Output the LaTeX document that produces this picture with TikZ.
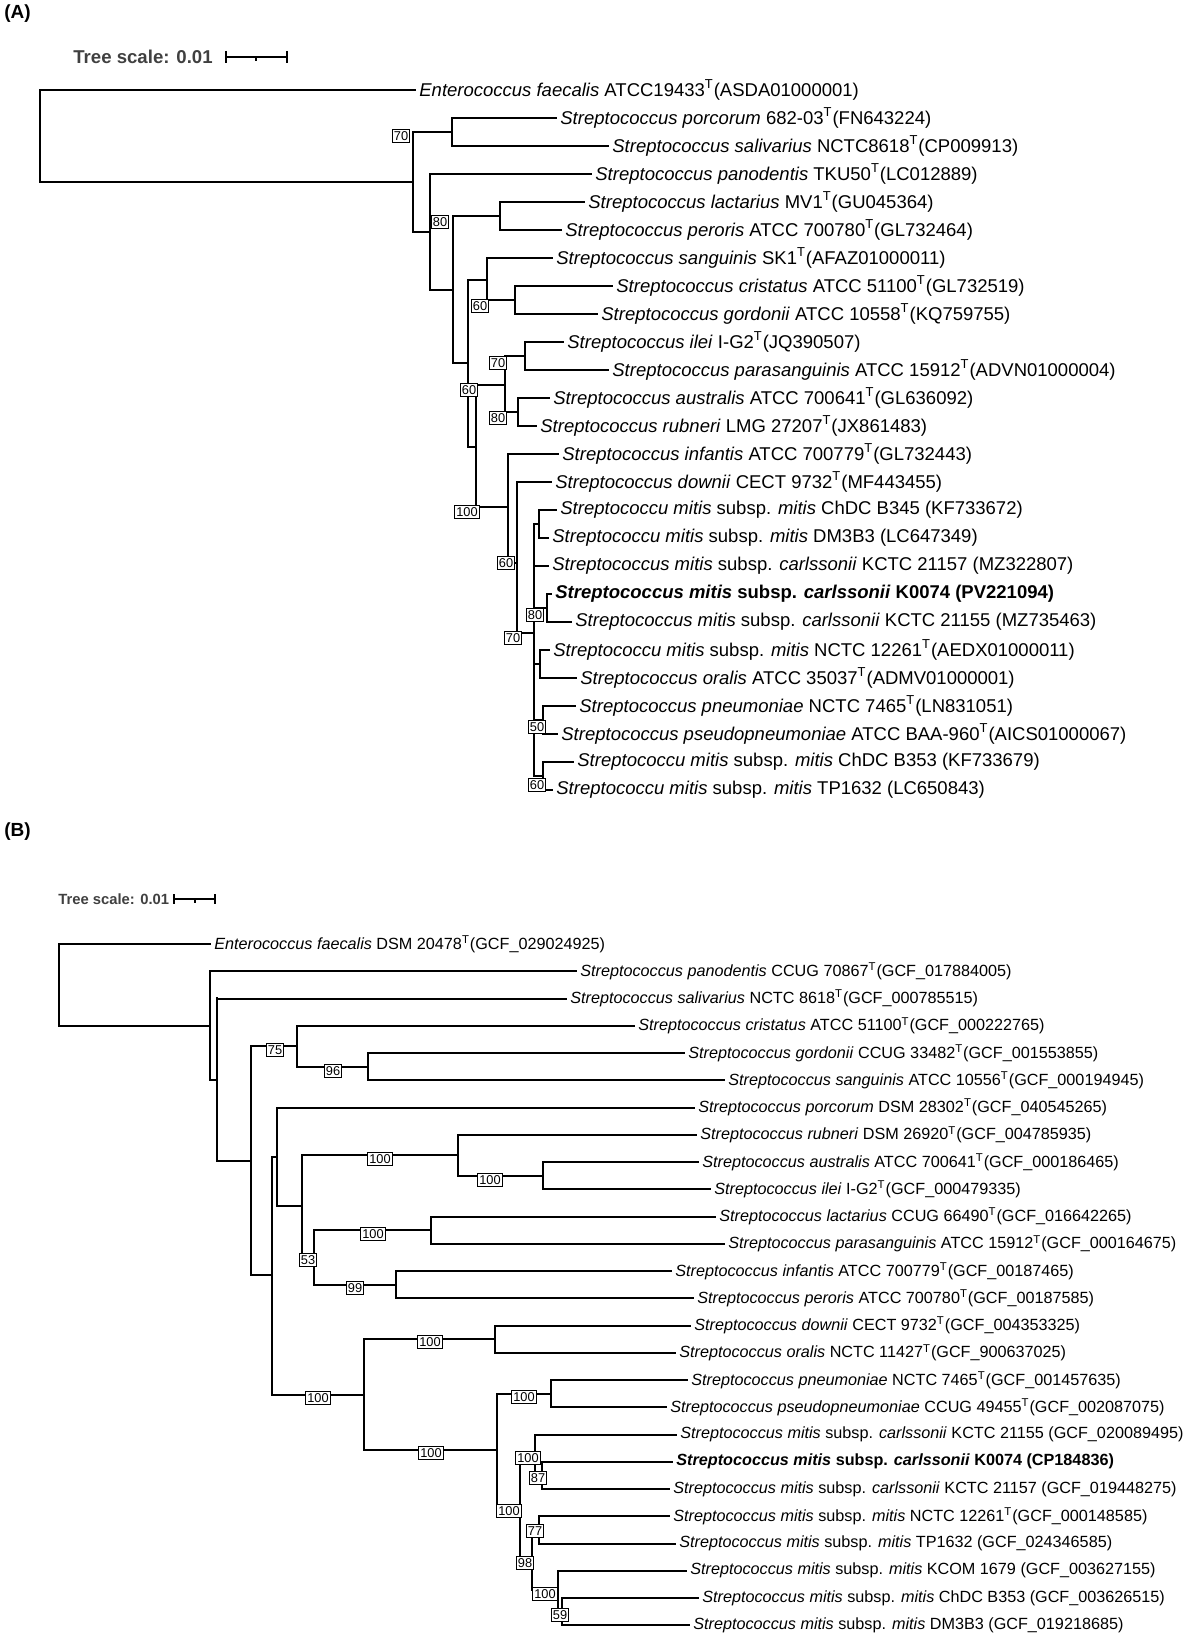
\documentclass[tikz,border=0pt]{standalone}
\usepackage{fontspec}
\setmainfont{Liberation Sans}
\usetikzlibrary{positioning, calc}

\newcommand{\gs}[1]{\textit{#1}}
\newcommand{\tT}{\textsuperscript{T}}

\tikzset{
	branch/.style={line width=1pt, line cap=rect},
	bs/.style={draw, fill=white, line width=0.45pt, inner sep=0.9pt, font=\fontsize{6.4}{7}\selectfont},
	tipA/.style={anchor=west, inner sep=0pt, font=\fontsize{9.25}{10}\selectfont},
	tipB/.style={anchor=west, inner sep=0pt, font=\fontsize{8.1}{9}\selectfont},
}

\begin{document}
\begin{tikzpicture}[x=0.5pt, y=-0.5pt]
	\useasboundingbox (0,0) rectangle (1187,1637);
	% panel labels and scales
	\node[anchor=north west, inner sep=0pt, font=\bfseries\fontsize{9.5}{10}\selectfont] (labA) at (4,4) {(A)};
	\node[anchor=north west, inner sep=0pt, font=\bfseries\fontsize{9.5}{10}\selectfont] (labB) at (4,822) {(B)};
	\node[anchor=west, inner sep=0pt, text=black!75, font=\bfseries\fontsize{9.3}{10}\selectfont] (scA) at (73,57) {Tree scale: 0.01};
	\draw[line width=0.9pt] (226,57) -- (287,57);
	\foreach \x in {226,287} \draw[line width=0.9pt] (\x,51) -- (\x,63);
	\draw[line width=0.6pt] (256,57) -- (256,61);
	\node[anchor=west, inner sep=0pt, text=black!75, font=\bfseries\fontsize{7.4}{8}\selectfont] (scB) at (58,899) {Tree scale: 0.01};
	\draw[line width=0.9pt] (174,899) -- (215,899);
	\foreach \x in {174,215} \draw[line width=0.9pt] (\x,894) -- (\x,904);
	\draw[line width=0.6pt] (195,899) -- (195,903);

	% ---------------- tree A ----------------
	\foreach \i/\px/\lx/\t in {
		0/40/419/{\gs{Enterococcus faecalis} ATCC19433\tT(ASDA01000001)},
		1/452/560/{\gs{Streptococcus porcorum} 682-03\tT(FN643224)},
		2/452/612/{\gs{Streptococcus salivarius} NCTC8618\tT(CP009913)},
		3/430/595/{\gs{Streptococcus panodentis} TKU50\tT(LC012889)},
		4/500/588/{\gs{Streptococcus lactarius} MV1\tT(GU045364)},
		5/500/565/{\gs{Streptococcus peroris} ATCC 700780\tT(GL732464)},
		6/487/556/{\gs{Streptococcus sanguinis} SK1\tT(AFAZ01000011)},
		7/515/616/{\gs{Streptococcus cristatus} ATCC 51100\tT(GL732519)},
		8/515/601/{\gs{Streptococcus gordonii} ATCC 10558\tT(KQ759755)},
		9/525/567/{\gs{Streptococcus ilei} I-G2\tT(JQ390507)},
		10/525/612/{\gs{Streptococcus parasanguinis} ATCC 15912\tT(ADVN01000004)},
		11/518/553/{\gs{Streptococcus australis} ATCC 700641\tT(GL636092)},
		12/518/540/{\gs{Streptococcus rubneri} LMG 27207\tT(JX861483)},
		13/508/562/{\gs{Streptococcus infantis} ATCC 700779\tT(GL732443)},
		14/517/555/{\gs{Streptococcus downii} CECT 9732\tT(MF443455)},
		15/539/560/{\gs{Streptococcu mitis} subsp. \gs{mitis} ChDC B345 (KF733672)},
		16/539/552/{\gs{Streptococcu mitis} subsp. \gs{mitis} DM3B3 (LC647349)},
		17/534/552/{\gs{Streptococcus mitis} subsp. \gs{carlssonii} KCTC 21157 (MZ322807)},
		18/547/555/{\textbf{\gs{Streptococcus mitis} subsp. \gs{carlssonii} K0074 (PV221094)}},
		19/547/575/{\gs{Streptococcus mitis} subsp. \gs{carlssonii} KCTC 21155 (MZ735463)},
		20/540/553/{\gs{Streptococcu mitis} subsp. \gs{mitis} NCTC 12261\tT(AEDX01000011)},
		21/540/580/{\gs{Streptococcus oralis} ATCC 35037\tT(ADMV01000001)},
		22/543/579/{\gs{Streptococcus pneumoniae} NCTC 7465\tT(LN831051)},
		23/543/561/{\gs{Streptococcus pseudopneumoniae} ATCC BAA-960\tT(AICS01000067)},
		24/543/577/{\gs{Streptococcu mitis} subsp. \gs{mitis} ChDC B353 (KF733679)},
		25/543/556/{\gs{Streptococcu mitis} subsp. \gs{mitis} TP1632 (LC650843)}} {
		\pgfmathsetmacro{\y}{90+28*\i}
		\draw[branch] (\px,\y) -- (\lx-4,\y);
		\node[tipA] (a\i) at (\lx,\y) {\t};
	}
	% inner branches of A
	\draw[branch] (40,90) -- (40,182) -- (413,182);
	\draw[branch] (452,132) -- (413,132) -- (413,232) -- (430,232);
	\draw[branch] (452,118) -- (452,146);
	\draw[branch] (430,174) -- (430,290) -- (453,290);
	\draw[branch] (500,216) -- (453,216) -- (453,363) -- (468,363);
	\draw[branch] (500,202) -- (500,230);
	\draw[branch] (487,280) -- (468,280) -- (468,447) -- (476,447);
	\draw[branch] (487,258) -- (487,300) -- (515,300);
	\draw[branch] (515,286) -- (515,314);
	\draw[branch] (505,385) -- (476,385) -- (476,507) -- (508,507);
	\draw[branch] (525,356) -- (505,356) -- (505,412) -- (518,412);
	\draw[branch] (525,342) -- (525,370);
	\draw[branch] (518,398) -- (518,426);
	\draw[branch] (508,454) -- (508,563) -- (517,563);
	\draw[branch] (517,482) -- (517,633) -- (534,633);
	\draw[branch] (539,524) -- (534,524) -- (534,776) -- (543,776);
	\draw[branch] (539,510) -- (539,538);
	\draw[branch] (534,608) -- (547,608);
	\draw[branch] (547,594) -- (547,622);
	\draw[branch] (534,664) -- (540,664);
	\draw[branch] (540,650) -- (540,678);
	\draw[branch] (534,720) -- (543,720);
	\draw[branch] (543,706) -- (543,734);
	\draw[branch] (543,762) -- (543,790);
	% bootstrap values of A
	\foreach \bx/\by/\v in {401/136/70, 440/222/80, 480/306/60, 498/363/70, 469/390/60,
		498/418/80, 467/512/100, 506/563/60, 513/638/70, 535/615/80, 537/727/50, 537/785/60}
		\node[bs] at (\bx,\by) {\v};

	% ---------------- tree B ----------------
	\foreach \j/\px/\lx/\t in {
		0/59/214/{\gs{Enterococcus faecalis} DSM 20478\tT(GCF\_029024925)},
		1/210/580/{\gs{Streptococcus panodentis} CCUG 70867\tT(GCF\_017884005)},
		2/217/570/{\gs{Streptococcus salivarius} NCTC 8618\tT(GCF\_000785515)},
		3/297/638/{\gs{Streptococcus cristatus} ATCC 51100\tT(GCF\_000222765)},
		4/368/688/{\gs{Streptococcus gordonii} CCUG 33482\tT(GCF\_001553855)},
		5/368/728/{\gs{Streptococcus sanguinis} ATCC 10556\tT(GCF\_000194945)},
		6/277/698/{\gs{Streptococcus porcorum} DSM 28302\tT(GCF\_040545265)},
		7/458/700/{\gs{Streptococcus rubneri} DSM 26920\tT(GCF\_004785935)},
		8/543/702/{\gs{Streptococcus australis} ATCC 700641\tT(GCF\_000186465)},
		9/543/714/{\gs{Streptococcus ilei} I-G2\tT(GCF\_000479335)},
		10/431/719/{\gs{Streptococcus lactarius} CCUG 66490\tT(GCF\_016642265)},
		11/431/728/{\gs{Streptococcus parasanguinis} ATCC 15912\tT(GCF\_000164675)},
		12/396/675/{\gs{Streptococcus infantis} ATCC 700779\tT(GCF\_00187465)},
		13/396/697/{\gs{Streptococcus peroris} ATCC 700780\tT(GCF\_00187585)},
		14/495/694/{\gs{Streptococcus downii} CECT 9732\tT(GCF\_004353325)},
		15/495/679/{\gs{Streptococcus oralis} NCTC 11427\tT(GCF\_900637025)},
		16/551/691/{\gs{Streptococcus pneumoniae} NCTC 7465\tT(GCF\_001457635)},
		17/551/670/{\gs{Streptococcus pseudopneumoniae} CCUG 49455\tT(GCF\_002087075)},
		18/535/680/{\gs{Streptococcus mitis} subsp. \gs{carlssonii} KCTC 21155 (GCF\_020089495)},
		19/542/676/{\textbf{\gs{Streptococcus mitis} subsp. \gs{carlssonii} K0074 (CP184836)}},
		20/542/673/{\gs{Streptococcus mitis} subsp. \gs{carlssonii} KCTC 21157 (GCF\_019448275)},
		21/539/673/{\gs{Streptococcus mitis} subsp. \gs{mitis} NCTC 12261\tT(GCF\_000148585)},
		22/539/679/{\gs{Streptococcus mitis} subsp. \gs{mitis} TP1632 (GCF\_024346585)},
		23/558/690/{\gs{Streptococcus mitis} subsp. \gs{mitis} KCOM 1679 (GCF\_003627155)},
		24/562/702/{\gs{Streptococcus mitis} subsp. \gs{mitis} ChDC B353 (GCF\_003626515)},
		25/562/693/{\gs{Streptococcus mitis} subsp. \gs{mitis} DM3B3 (GCF\_019218685)}} {
		\pgfmathsetmacro{\y}{944+27.25*\j}
		\draw[branch] (\px,\y) -- (\lx-4,\y);
		\node[tipB] (b\j) at (\lx,\y) {\t};
	}
	% inner branches of B
	\draw[branch] (59,944) -- (59,1026) -- (210,1026);
	\draw[branch] (210,971) -- (210,1080) -- (217,1080);
	\draw[branch] (217,998) -- (217,1161) -- (251,1161);
	\draw[branch] (297,1046) -- (251,1046) -- (251,1275) -- (272,1275);
	\draw[branch] (297,1026) -- (297,1067) -- (368,1067);
	\draw[branch] (368,1053) -- (368,1080);
	\draw[branch] (277,1157) -- (272,1157) -- (272,1395) -- (364,1395);
	\draw[branch] (277,1108) -- (277,1206) -- (302,1206);
	\draw[branch] (458,1155) -- (302,1155) -- (302,1257) -- (314,1257);
	\draw[branch] (458,1135) -- (458,1176) -- (543,1176);
	\draw[branch] (543,1162) -- (543,1189);
	\draw[branch] (431,1230) -- (314,1230) -- (314,1285) -- (396,1285);
	\draw[branch] (431,1217) -- (431,1244);
	\draw[branch] (396,1271) -- (396,1298);
	\draw[branch] (495,1339) -- (364,1339) -- (364,1450) -- (497,1450);
	\draw[branch] (495,1326) -- (495,1353);
	\draw[branch] (551,1394) -- (497,1394) -- (497,1507) -- (520,1507);
	\draw[branch] (551,1380) -- (551,1407);
	\draw[branch] (535,1458) -- (520,1458) -- (520,1563) -- (532,1563);
	\draw[branch] (535,1435) -- (535,1475) -- (542,1475);
	\draw[branch] (542,1462) -- (542,1489);
	\draw[branch] (539,1530) -- (532,1530) -- (532,1590) -- (558,1590);
	\draw[branch] (539,1516) -- (539,1543);
	\draw[branch] (558,1571) -- (558,1611) -- (562,1611);
	\draw[branch] (562,1598) -- (562,1625);
	% bootstrap values of B
	\foreach \bx/\by/\v in {275/1050/75, 333/1071/96, 380/1159/100, 490/1180/100, 308/1260/53,
		373/1234/100, 355/1288/99, 318/1398/100, 430/1342/100, 431/1453/100, 524/1397/100,
		509/1511/100, 528/1458/100, 538/1478/87, 535/1531/77, 525/1563/98, 545/1594/100, 560/1615/59}
		\node[bs] at (\bx,\by) {\v};
\end{tikzpicture}
\end{document}
